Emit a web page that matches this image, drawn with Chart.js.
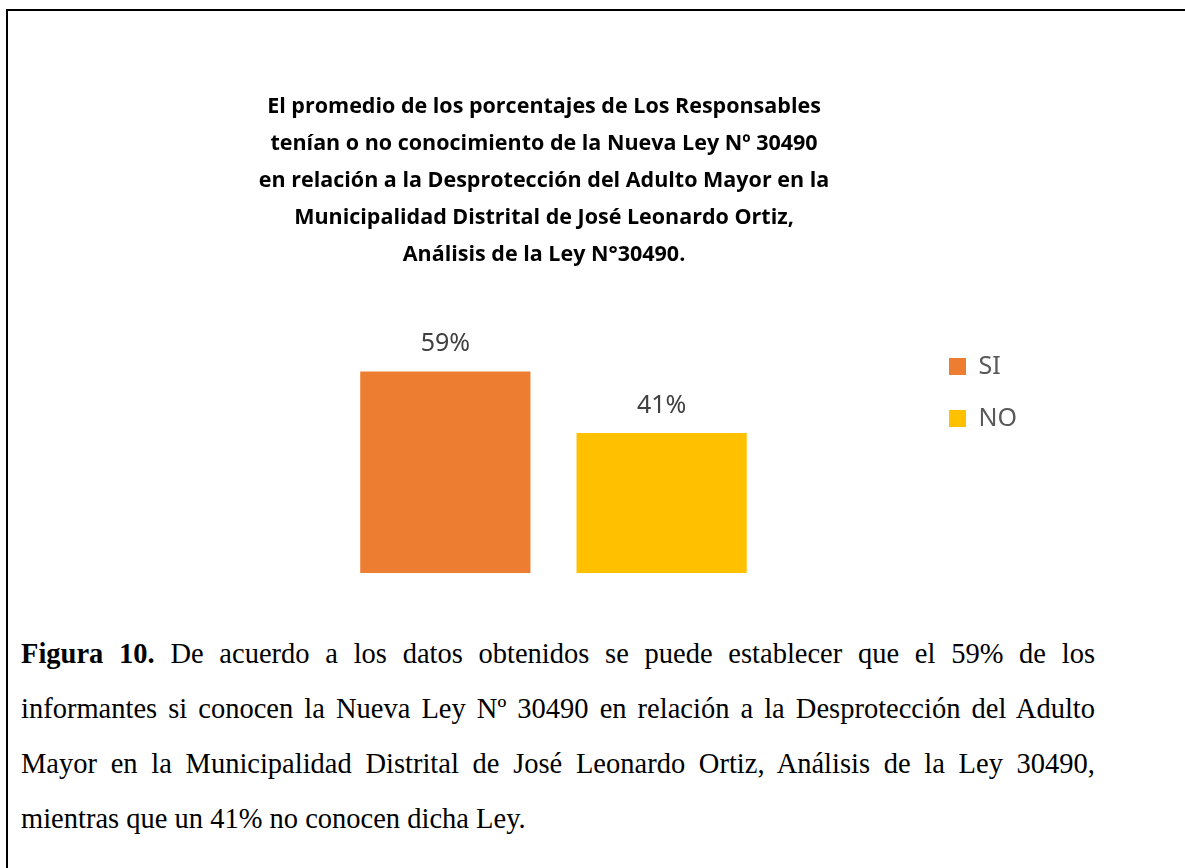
<!DOCTYPE html>
<html>
<head>
<meta charset="utf-8">
<script src="https://cdn.jsdelivr.net/npm/chart.js@4.4.0/dist/chart.umd.min.js"></script>
<style>
    html, body { margin: 0; padding: 0; background: #fff; width: 1185px; height: 868px; overflow: hidden; }
    #frame { position: absolute; left: 6px; top: 9px; width: 1400px; height: 1000px; border-left: 2px solid #000; border-top: 2px solid #000; }
    #wrap { position: absolute; left: 0; top: 0; width: 1185px; height: 600px; }
    #caption { position: absolute; left: 21px; top: 626px; width: 1074px; font-family: "Liberation Serif", "Times New Roman", serif; font-size: 28.5px; color: #000; }
    #caption div { height: 55px; line-height: 55px; text-align: justify; text-align-last: justify; }
    #caption div.last { text-align: left; text-align-last: left; }
</style>
</head>
<body>
<div id="frame"></div>
<div id="wrap"><canvas id="chart"></canvas></div>
<div id="caption">
    <div><b>Figura 10.</b> De acuerdo a los datos obtenidos se puede establecer que el 59% de los</div>
    <div>informantes si conocen la Nueva Ley Nº 30490 en relación a la Desprotección del Adulto</div>
    <div>Mayor en la Municipalidad Distrital de José Leonardo Ortiz, Análisis de la Ley 30490,</div>
    <div class="last">mientras que un 41% no conocen dicha Ley.</div>
</div>
<script>
// datos del gráfico
const categories = [''];
const seriesNames = ['SI', 'NO'];
const seriesValues = [59, 41];
const titleLines = [
    'El promedio de los porcentajes de Los Responsables',
    'tenían o no conocimiento de la Nueva Ley Nº 30490',
    'en relación a la Desprotección del Adulto Mayor en la',
    'Municipalidad Distrital de José Leonardo Ortiz,',
    'Análisis de la Ley N°30490.'
];

const colors = ['#ED7D31', '#FFC000'];

// etiquetas de valor encima de cada barra
const valueLabels = {
    id: 'valueLabels',
    afterDatasetsDraw(chart) {
        const ctx = chart.ctx;
        ctx.save();
        ctx.font = '25px "Noto Sans"';
        ctx.fillStyle = '#404040';
        ctx.textAlign = 'center';
        ctx.textBaseline = 'alphabetic';
        chart.data.datasets.forEach((ds, i) => {
            chart.getDatasetMeta(i).data.forEach((bar, j) => {
                ctx.fillText(ds.data[j] + '%', bar.x, bar.y - 20);
            });
        });
        ctx.restore();
    }
};

new Chart(document.getElementById('chart'), {
    type: 'bar',
    data: {
        labels: categories,
        datasets: seriesNames.map((name, i) => ({
            label: name,
            data: [seriesValues[i]],
            backgroundColor: colors[i],
            borderWidth: 0,
            barPercentage: 0.787,
            categoryPercentage: 0.587,
        }))
    },
    options: {
        responsive: true, maintainAspectRatio: false,
        animation: false,
        layout: { padding: { left: 61, right: 158, top: 0, bottom: 27 } },
        plugins: {
            title: {
                display: true,
                text: titleLines,
                color: '#000',
                font: { family: '"Open Sans"', size: 21.5, weight: 'bold', lineHeight: 37 / 21.5 },
                padding: { top: 88, bottom: 54 }
            },
            legend: {
                position: 'right',
                align: 'start',
                fullSize: false,
                onClick: null,
                labels: {
                    boxWidth: 17, boxHeight: 17, padding: 27,
                    color: '#595959',
                    font: { family: '"Noto Sans"', size: 25 }
                }
            },
            tooltip: { enabled: false }
        },
        scales: {
            x: { display: false },
            y: {
                min: 0, max: 72,
                ticks: { display: false },
                grid: { display: false },
                border: { display: false },
                afterFit(scale) { scale.width = 124; }
            }
        }
    },
    plugins: [valueLabels]
});
</script>
</body>
</html>
